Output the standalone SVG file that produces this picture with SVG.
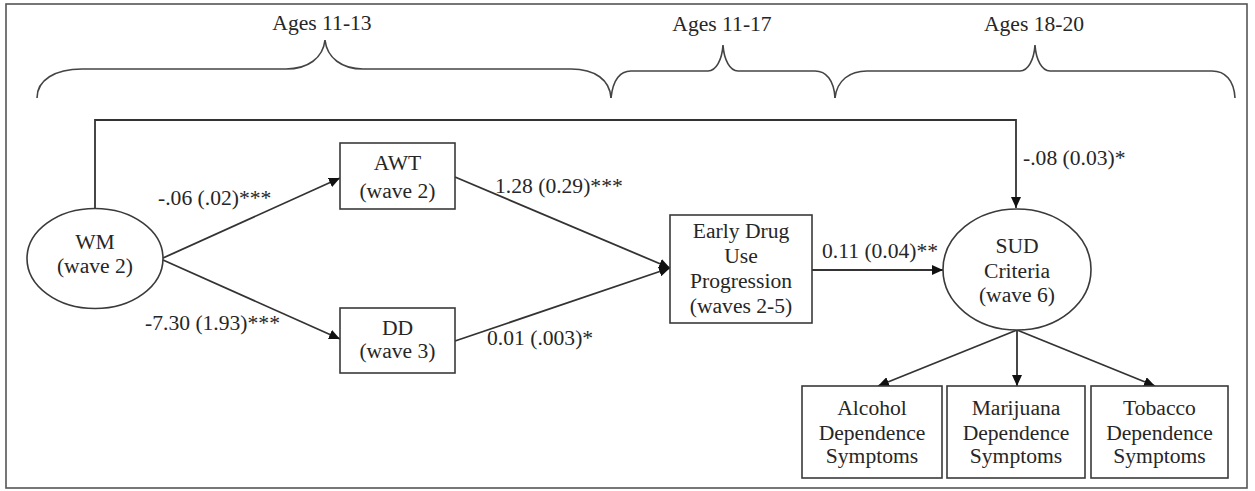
<svg xmlns="http://www.w3.org/2000/svg" width="1255" height="491" viewBox="0 0 1255 491">
<style>
text{font-family:"Liberation Serif","Times New Roman",serif;font-size:21.6px;fill:#262626;text-anchor:middle}
.lbl{text-anchor:start}
.shape{fill:#fff;stroke:#3a3a3a;stroke-width:1.6}
.edge{fill:none;stroke:#333;stroke-width:1.8}
.brace{fill:none;stroke:#444;stroke-width:1.6}
</style>
<defs>
<marker id="arr" markerUnits="userSpaceOnUse" markerWidth="12" markerHeight="10" refX="11" refY="5" orient="auto">
<path d="M0,0 L11,5 L0,10 z" fill="#111"/>
</marker>
</defs>
<rect x="0" y="0" width="1255" height="491" fill="#fff"/>
<rect x="6" y="4" width="1241" height="484" fill="none" stroke="#555" stroke-width="1.6"/>
<g id="braces">
<path class="brace" d="M37,98 C37,80 55,69 82,69 L286,69 C308,69 323,58 325,40 C327,58 342,69 363,69 L571,69 C595,69 610,80 611,98"/>
<path class="brace" d="M611,98 C613,80 620,71 631,71 L708,71 C716,71 722,60 723,45 C724,60 730,71 738,71 L815,71 C826,71 834,80 835,98"/>
<path class="brace" d="M835,98 C837,80 850,71 867,71 L1020,71 C1028,71 1034,60 1035,45 C1036,60 1042,71 1050,71 L1212,71 C1225,71 1234,80 1235,98"/>
<text x="322" y="30">Ages 11-13</text>
<text x="722" y="31">Ages 11-17</text>
<text x="1034" y="31">Ages 18-20</text>
</g>
<g id="connectors">
<path class="edge" d="M95,209 L95,120 L1016,120 L1016,208" marker-end="url(#arr)"/>
<line class="edge" x1="163" y1="258" x2="340" y2="178" marker-end="url(#arr)"/>
<line class="edge" x1="163" y1="260" x2="340" y2="339" marker-end="url(#arr)"/>
<line class="edge" x1="455" y1="177" x2="670" y2="268" marker-end="url(#arr)"/>
<line class="edge" x1="455" y1="341" x2="670" y2="268" marker-end="url(#arr)"/>
<line class="edge" x1="812" y1="270" x2="943" y2="270" marker-end="url(#arr)"/>
<line class="edge" x1="1017" y1="330" x2="878" y2="386" marker-end="url(#arr)"/>
<line class="edge" x1="1017" y1="330" x2="1017" y2="386" marker-end="url(#arr)"/>
<line class="edge" x1="1017" y1="330" x2="1155" y2="386" marker-end="url(#arr)"/>
<text class="lbl" x="158" y="205">-.06 (.02)***</text>
<text class="lbl" x="145" y="330">-7.30 (1.93)***</text>
<text class="lbl" x="495" y="193">1.28 (0.29)***</text>
<text class="lbl" x="487" y="345">0.01 (.003)*</text>
<text class="lbl" x="822" y="258">0.11 (0.04)**</text>
<text class="lbl" x="1023" y="165">-.08 (0.03)*</text>
</g>
<g id="wm">
<ellipse class="shape" cx="95" cy="258.5" rx="68" ry="50"/>
<text x="95" y="249">WM</text>
<text x="95" y="273">(wave 2)</text>
</g>
<g id="awt">
<rect class="shape" x="340" y="143" width="115" height="66"/>
<text x="397.5" y="170">AWT</text>
<text x="397.5" y="198">(wave 2)</text>
</g>
<g id="dd">
<rect class="shape" x="340" y="308" width="115" height="65"/>
<text x="397.5" y="335">DD</text>
<text x="397.5" y="358">(wave 3)</text>
</g>
<g id="early">
<rect class="shape" x="670" y="215" width="142" height="108"/>
<text x="741" y="238">Early Drug</text>
<text x="741" y="263">Use</text>
<text x="741" y="288">Progression</text>
<text x="741" y="313">(waves 2-5)</text>
</g>
<g id="sud">
<ellipse class="shape" cx="1017" cy="269.5" rx="74" ry="60.5"/>
<text x="1017" y="253">SUD</text>
<text x="1017" y="278">Criteria</text>
<text x="1017" y="302">(wave 6)</text>
</g>
<g id="alcohol">
<rect class="shape" x="802" y="386" width="140" height="92"/>
<text x="872" y="415">Alcohol</text>
<text x="872" y="440">Dependence</text>
<text x="872" y="463">Symptoms</text>
</g>
<g id="marijuana">
<rect class="shape" x="947" y="386" width="138" height="92"/>
<text x="1016" y="415">Marijuana</text>
<text x="1016" y="440">Dependence</text>
<text x="1016" y="463">Symptoms</text>
</g>
<g id="tobacco">
<rect class="shape" x="1091" y="386" width="137" height="92"/>
<text x="1159.5" y="415">Tobacco</text>
<text x="1159.5" y="440">Dependence</text>
<text x="1159.5" y="463">Symptoms</text>
</g>
</svg>
